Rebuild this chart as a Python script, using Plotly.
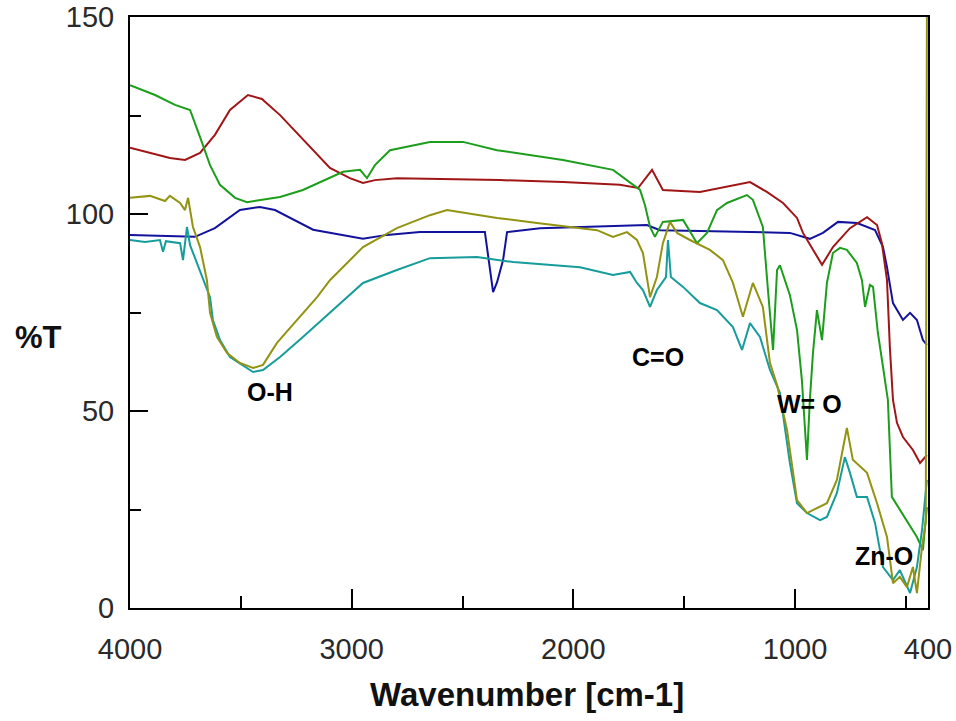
import plotly.graph_objects as go

# ---------------- data (wavenumber cm-1, %T) ----------------
blue_wn = [4000, 3865, 3707, 3617, 3504, 3414, 3346, 3174, 3053, 2949, 2841, 2692, 2399, 2381, 2362,
           2344, 2317, 2299, 2150, 1668, 1609, 1429, 1023, 933, 874, 806, 720, 639, 603, 585, 558,
           513, 481, 450, 423, 405]
blue_t = [94.7, 94.4, 94.2, 96.4, 101, 101.8, 101, 96, 94.7, 93.7, 94.7, 95.4, 95.4, 88.3, 80.2,
          82.7, 88.3, 95.4, 96.4, 97.2, 95.9, 95.7, 95.2, 93.7, 95.2, 98, 97.7, 95.9, 91.6, 86.5, 77.4,
          73.1, 74.9, 73.1, 68, 66.8]

red_wn = [4000, 3910, 3820, 3752, 3684, 3617, 3549, 3468, 3405, 3323, 3247, 3165, 3098, 3008, 2949,
          2895, 2796, 2331, 2047, 1790, 1708, 1645, 1596, 1429, 1203, 1127, 1054, 991, 964, 878, 829,
          752, 675, 630, 608, 585, 572, 558, 540, 513, 468, 436, 405]
red_t = [116.8, 115.5, 114.2, 113.7, 115.5, 120.1, 126.4, 130.2, 129.2, 125.1, 120.6, 115.7, 111.7,
         109.1, 107.9, 108.6, 109.1, 108.6, 108.1, 107.4, 106.6, 111.2, 106.1, 105.6, 108.1, 105.6,
         102.8, 99, 95.2, 87.1, 91.6, 96.4, 99.2, 97.2, 92.6, 83.2, 66.2, 52.8, 47, 43.4, 40.1, 36.8, 38.8]

green_wn = [4000, 3887, 3797, 3729, 3684, 3639, 3594, 3526, 3472, 3323, 3220, 3039, 2962, 2931, 2895,
            2827, 2647, 2498, 2344, 2047, 1821, 1744, 1699, 1677, 1654, 1632, 1596, 1505, 1442, 1397,
            1352, 1307, 1217, 1190, 1145, 1122, 1099, 1081, 1068, 1023, 991, 969, 946, 933, 919, 901,
            878, 856, 829, 797, 766, 721, 698, 684, 662, 648, 626, 603, 581, 563, 527, 481, 450, 423, 405]
green_t = [132.7, 130.2, 127.7, 126.4, 119.5, 112.4, 107.4, 104.1, 103, 104.3, 106.1, 110.7, 111.2,
           109.1, 112.4, 116.2, 118.3, 118.3, 116.2, 113.7, 111.2, 108.1, 106.1, 102.3, 96.7, 94.2, 98,
           98.5, 92.6, 95.2, 101, 102.8, 104.8, 103.6, 96.7, 80.7, 65.5, 85.8, 87, 79.4, 70.6, 57.9,
           37.6, 52.8, 64.7, 75.6, 68, 82.5, 90.1, 91.4, 90.9, 87.6, 83.2, 76.4, 82, 81.5, 69.8, 61.2,
           52.8, 28.2, 24.9, 20.6, 18, 14.7, 25.6]

olive_wn = [4000, 3910, 3842, 3820, 3774, 3752, 3738, 3716, 3684, 3653, 3639, 3608, 3562, 3504, 3445,
            3400, 3337, 3247, 3156, 3098, 2949, 2796, 2647, 2570, 2344, 2164, 1893, 1821, 1758, 1713,
            1686, 1654, 1623, 1596, 1564, 1532, 1474, 1384, 1325, 1280, 1235, 1190, 1145, 1113, 1081,
            1036, 1009, 991, 946, 856, 811, 766, 739, 675, 630, 585, 558, 527, 495, 468, 450, 427, 410, 405]
olive_t = [104.1, 104.6, 103.3, 104.6, 102.8, 101, 104.1, 96.7, 91.6, 83.2, 74.9, 68.8, 64.7, 62.2,
           60.9, 61.7, 67.3, 73.1, 78.9, 83.2, 91.6, 96.4, 99.7, 101, 99, 97.7, 95.9, 94.2, 95.4, 93.4,
           90.1, 78.9, 84, 92.6, 98, 95.2, 93.4, 90.9, 88.3, 82.5, 73.9, 82.5, 76.4, 62.2, 56.6, 45.2,
           35, 27.4, 24.1, 26.6, 32.5, 45.7, 37.6, 34.3, 26.6, 18, 6.3, 7.9, 5.3, 10.4, 3.8, 15.5, 22, 150]

teal_wn = [4000, 3932, 3865, 3851, 3838, 3774, 3761, 3743, 3729, 3698, 3671, 3639, 3626, 3594, 3549,
           3445, 3400, 3323, 3220, 3098, 2949, 2796, 2647, 2435, 2272, 1970, 1821, 1744, 1713, 1686,
           1654, 1623, 1582, 1573, 1560, 1505, 1429, 1352, 1280, 1239, 1203, 1158, 1113, 1068, 1023,
           991, 946, 887, 856, 811, 775, 752, 721, 675, 639, 603, 558, 527, 481, 450, 427, 405]
teal_t = [93.4, 92.9, 93.4, 90.4, 93.1, 92.6, 88.3, 96.7, 92.1, 87.6, 83.2, 78.9, 73.1, 68, 63.7, 59.9,
          60.4, 63.7, 68.8, 74.9, 82.5, 85.8, 88.8, 89.1, 87.8, 86.5, 84.5, 85.3, 82.5, 80.7, 76.4, 80.7,
          84, 93.4, 84, 81.5, 77.4, 75.6, 71.3, 65.5, 72.3, 68.8, 60.4, 54.6, 36.8, 26.6, 24.1, 22.3,
          23.1, 29.2, 38.3, 34.3, 28.2, 28.2, 21.6, 10.4, 7.1, 9.6, 3.8, 10.4, 19.8, 32.5]

label_text = ["O-H", "C=O", "W= O", "Zn-O"]
label_wn = [3369, 1618, 933, 599]
label_t = [54.8, 63.7, 51.8, 13.2]

x_tick_vals = [4000, 3000, 2000, 1000, 400]
x_tick_text = ["4000", "3000", "2000", "1000", "400"]
x_minor_vals = [3500, 2500, 1500, 500]
y_tick_vals = [0, 50, 100, 150]

series = [
    (blue_wn, blue_t, "#12129c"),
    (red_wn, red_t, "#a01616"),
    (green_wn, green_t, "#1c9e1c"),
    (teal_wn, teal_t, "#179c9c"),
    (olive_wn, olive_t, "#939312"),
]

fig = go.Figure()
for wn, t, c in series:
    fig.add_trace(go.Scatter(x=wn, y=t, mode="lines", line=dict(color=c, width=2),
                             showlegend=False, hoverinfo="skip"))

for txt, xw, yt in zip(label_text, label_wn, label_t):
    fig.add_annotation(x=xw, y=yt, xref="x", yref="y", text="<b>%s</b>" % txt, showarrow=False,
                       font=dict(family="Liberation Sans, Arial", size=25, color="black"))

fig.add_annotation(x=0.497, y=-0.147, xref="paper", yref="paper", text="<b>Wavenumber [cm-1]</b>",
                   showarrow=False, xanchor="center", yanchor="middle",
                   font=dict(family="Liberation Sans, Arial", size=33, color="#111"))
fig.add_annotation(x=-0.115, y=0.4585, xref="paper", yref="paper", text="<b>%T</b>",
                   showarrow=False, xanchor="center", yanchor="middle",
                   font=dict(family="Liberation Sans, Arial", size=31, color="#111"))

tickfont = dict(family="Liberation Sans, Arial", size=29, color="#2a2a2a")

fig.update_xaxes(range=[4000, 400], tickmode="array", tickvals=x_tick_vals, ticktext=x_tick_text,
                 ticks="inside", ticklen=19, tickwidth=2, tickcolor="black",
                 minor=dict(tickvals=x_minor_vals, ticks="inside", ticklen=12, tickwidth=2, tickcolor="black"),
                 showline=True, linecolor="black", linewidth=2, mirror=True, automargin=False,
                 showgrid=False, zeroline=False, tickfont=tickfont, ticklabelstandoff=14)
fig.update_yaxes(range=[0, 150], tickmode="array", tickvals=y_tick_vals,
                 ticks="inside", ticklen=18, tickwidth=2, tickcolor="black",
                 minor=dict(dtick=25, tick0=0, ticks="inside", ticklen=11, tickwidth=2, tickcolor="black"),
                 showline=True, linecolor="black", linewidth=2, mirror=True, automargin=False,
                 showgrid=False, zeroline=False, tickfont=tickfont, ticklabelstandoff=8)

fig.update_layout(width=956, height=721, margin=dict(l=130, r=28, t=17, b=113),
                  paper_bgcolor="white", plot_bgcolor="white", showlegend=False)

fig.write_html("out.html")
